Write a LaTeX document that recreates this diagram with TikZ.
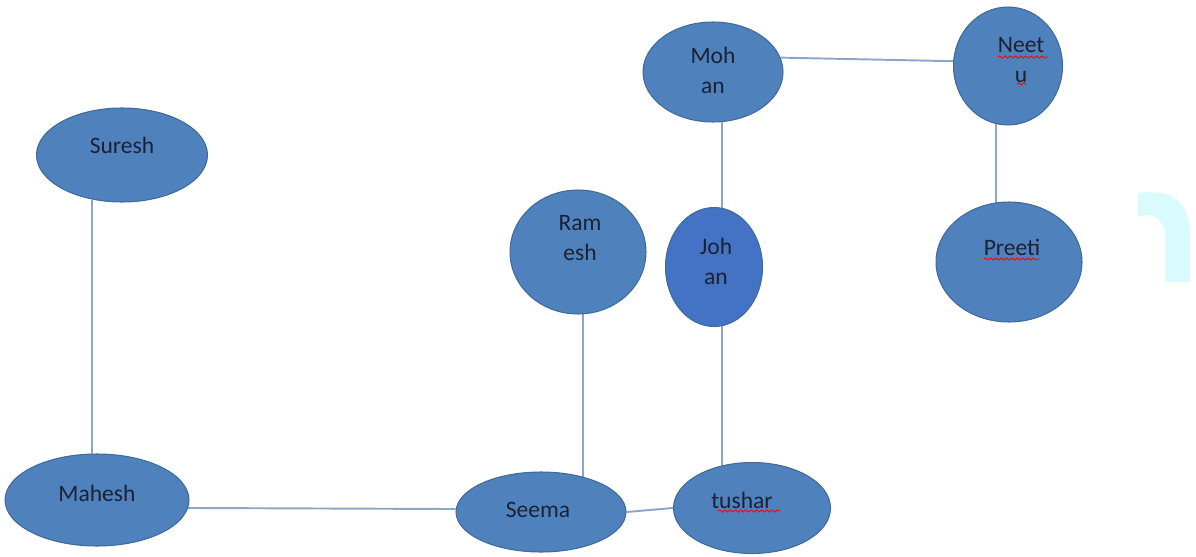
\documentclass[tikz,border=0pt]{standalone}
\usepackage{fontspec}
\setmainfont{Carlito}
\usetikzlibrary{shapes.geometric,backgrounds,decorations.pathmorphing}
\definecolor{shapeblue}{HTML}{4F81BD}
\definecolor{johanblue}{HTML}{4472C4}
\definecolor{rimblue}{HTML}{3F6A99}
\definecolor{linkblue}{HTML}{8CA6CA}
\definecolor{txt}{HTML}{1B2233}
\definecolor{hookcyan}{HTML}{DAFBFE}
\begin{document}
\begin{tikzpicture}[x=0.02cm, y=-0.02cm]
   \tikzstyle{pers} = [ellipse, draw=rimblue, line width=0.6pt,
                       fill=shapeblue, inner sep=0pt];
   \tikzstyle{nm} = [text=txt, align=center, inner sep=0pt,
                     font=\fontsize{13.4}{17}\selectfont];
   \tikzstyle{lnk} = [linkblue, line width=1.1pt, -];
   \tikzstyle{squig} = [red, line width=0.5pt,
                        decorate, decoration={snake, segment length=3pt,
                        amplitude=0.6pt}];

    \useasboundingbox (0,0) rectangle (1196,557);

    \node[pers, minimum width=3.42cm, minimum height=1.88cm] (suresh) at (122,155) {};
    \node[pers, minimum width=3.68cm, minimum height=1.84cm] (mahesh) at (97,500) {};
    \node[pers, minimum width=3.40cm, minimum height=1.60cm] (seema) at (541,512) {};
    \node[pers, minimum width=3.14cm, minimum height=1.82cm] (tushar) at (752,508) {};
    \node[pers, minimum width=2.72cm, minimum height=2.48cm] (ramesh) at (578,252) {};
    \node[pers, fill=johanblue, minimum width=1.94cm, minimum height=2.38cm] (johan) at (714,267) {};
    \node[pers, minimum width=2.80cm, minimum height=2.00cm] (mohan) at (713,72) {};
    \node[pers, minimum width=2.18cm, minimum height=2.36cm] (neetu) at (1008,66) {};
    \node[pers, minimum width=2.92cm, minimum height=2.40cm] (preeti) at (1009,262) {};

    \node[nm] (tSuresh) at (122,145) {Suresh};
    \node[nm] (tMahesh) at (97,493) {Mahesh};
    \node[nm] (tSeema) at (538,510) {Seema};
    \node[nm] (tTushar) at (742,500) {tushar};
    \node[nm] (tRamesh) at (580,238) {Ram\\esh};
    \node[nm] (tJohan) at (716,261) {Joh\\an};
    \node[nm] (tMohan) at (713,70) {Moh\\an};
    \node[nm] (tNeetu) at (1021,60) {Neet\\u};
    \node[nm] (tPreeti) at (1012,247) {Preeti};

    %% links
    \begin{pgfonlayer}{background}
    \path[lnk] (suresh.236) edge (suresh.236 |- mahesh);
    \path[lnk] (mahesh.355) edge (seema.178);
    \path[lnk] (seema.east) edge (tushar.west);
    \path[lnk] (ramesh.275) edge (ramesh.275 |- seema);
    \path[lnk] (johan.278) edge (johan.278 |- tushar);
    \path[lnk] (johan.82) edge (johan.82 |- mohan);
    \path[lnk] (mohan.12) edge (neetu.175);
    \path[lnk] (neetu.258) edge (neetu.258 |- preeti);
    \end{pgfonlayer}

    %% spell-check marks
    \draw[squig] (998,57) -- (1048,57);
    \draw[squig] (1017,84) -- (1027,84);
    \draw[squig] (984,259) -- (1040,259);
    \draw[squig] (718,511) -- (780,511);

    % cyan hook at the right edge
    \fill[hookcyan] (1138,193) .. controls (1175,188) and (1190,205) .. (1190,235)
      -- (1190,282) -- (1165,282) -- (1165,235)
      .. controls (1165,220) and (1150,210) .. (1138,217) -- cycle;

  \end{tikzpicture}
\end{document}
